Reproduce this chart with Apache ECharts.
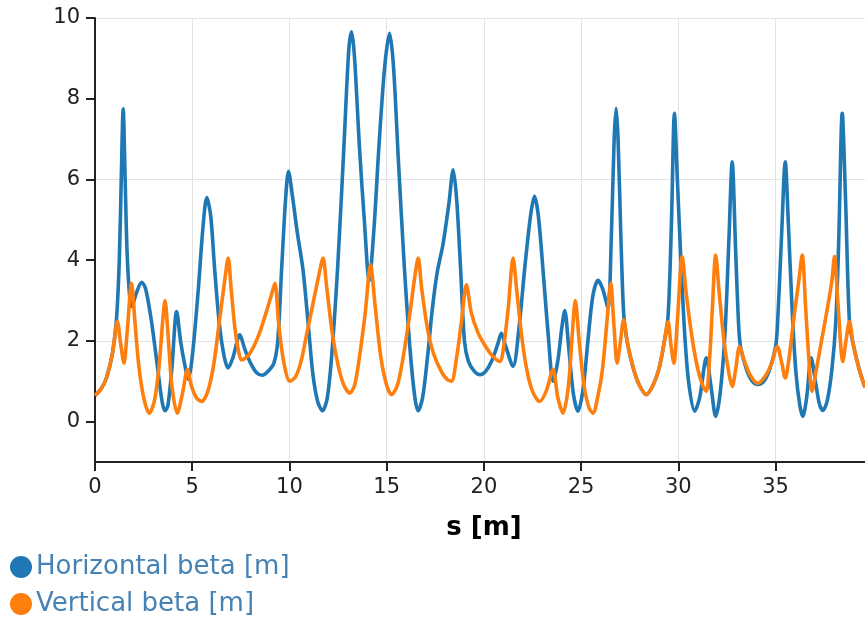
<!DOCTYPE html>
<html>
<head>
<meta charset="utf-8">
<script src="https://cdn.jsdelivr.net/npm/echarts@6/dist/echarts.min.js"></script>
<style>
html,body{margin:0;padding:0;background:#fff;}
#chart{width:865px;height:619px;}
</style>
</head>
<body>
<div id="chart"></div>
<script>
// s [m] positions and beta values
const horizontalS = [0.0,0.3,0.6,0.9,1.1,1.25,1.35,1.45,1.55,1.65,1.8,1.9,2.1,2.4,2.6,2.9,3.2,3.45,3.6,3.75,3.95,4.2,4.4,4.6,4.8,5.0,5.3,5.55,5.75,5.95,6.15,6.4,6.65,6.85,7.1,7.45,7.7,8.0,8.3,8.6,8.9,9.2,9.4,9.6,9.8,9.95,10.15,10.4,10.7,10.95,11.2,11.45,11.7,11.95,12.2,12.5,12.8,13.05,13.2,13.35,13.6,13.85,14.1,14.35,14.6,14.9,15.15,15.35,15.6,15.9,16.2,16.45,16.62,16.85,17.1,17.35,17.6,17.9,18.2,18.42,18.6,18.8,19.0,19.2,19.5,19.8,20.1,20.4,20.7,20.9,21.1,21.5,21.8,22.1,22.4,22.6,22.8,23.05,23.3,23.56,23.8,24.0,24.16,24.35,24.6,24.84,25.1,25.35,25.6,25.87,26.1,26.38,26.55,26.7,26.8,26.9,27.05,27.2,27.4,27.7,28.0,28.35,28.7,29.0,29.25,29.47,29.65,29.8,29.95,30.15,30.35,30.55,30.84,31.1,31.44,31.7,31.92,32.15,32.4,32.6,32.77,32.95,33.1,33.2,33.5,33.8,34.09,34.4,34.7,35.0,35.1,35.3,35.5,35.65,35.85,36.05,36.25,36.4,36.6,36.83,37.05,37.25,37.43,37.65,37.9,38.1,38.25,38.43,38.6,38.8,39.0,39.3,39.6];
const horizontalBeta = [0.65,0.8,1.1,1.7,2.5,4.0,6.0,7.75,6.0,4.2,3.0,2.85,3.15,3.45,3.3,2.5,1.4,0.5,0.27,0.4,1.3,2.73,2.0,1.45,1.05,1.6,3.2,4.8,5.55,5.1,3.8,2.4,1.6,1.33,1.6,2.15,1.8,1.45,1.22,1.15,1.25,1.45,2.0,3.8,5.5,6.2,5.6,4.7,3.75,2.5,1.2,0.5,0.27,0.6,1.8,4.0,6.8,9.2,9.66,9.0,6.8,5.0,3.5,4.8,6.8,8.8,9.62,8.8,6.5,3.9,1.8,0.6,0.27,0.6,1.6,2.8,3.7,4.4,5.4,6.24,5.5,3.8,2.0,1.5,1.25,1.16,1.25,1.5,1.9,2.19,1.9,1.37,2.3,3.8,5.1,5.58,5.1,3.7,2.2,1.0,1.5,2.3,2.75,1.9,0.7,0.26,0.8,2.0,3.1,3.5,3.3,2.82,4.5,7.0,7.76,7.0,4.5,2.6,1.9,1.3,0.9,0.67,0.9,1.3,1.9,2.6,5.0,7.64,6.0,3.8,2.0,0.9,0.26,0.6,1.58,0.8,0.13,0.7,2.2,4.5,6.44,4.2,2.4,1.85,1.3,1.0,0.92,1.0,1.3,1.85,2.4,4.5,6.44,5.0,2.8,1.2,0.4,0.13,0.6,1.58,1.0,0.45,0.28,0.5,1.3,2.5,4.5,7.64,5.5,2.48,1.9,1.3,0.85];

const verticalS = [0.0,0.3,0.6,0.9,1.15,1.3,1.49,1.65,1.88,2.05,2.25,2.5,2.79,3.05,3.3,3.5,3.6,3.75,3.95,4.23,4.5,4.76,4.95,5.2,5.48,5.8,6.1,6.4,6.7,6.85,7.0,7.2,7.4,7.54,7.9,8.2,8.5,8.8,9.05,9.25,9.45,9.7,10.02,10.3,10.6,10.9,11.2,11.5,11.73,11.9,12.2,12.5,12.8,13.1,13.35,13.6,13.9,14.17,14.4,14.7,15.0,15.25,15.55,15.85,16.2,16.45,16.62,16.8,17.1,17.4,17.8,18.1,18.33,18.6,18.85,19.1,19.35,19.7,20.04,20.4,20.82,21.0,21.25,21.5,21.7,21.95,22.2,22.5,22.87,23.2,23.56,23.8,24.07,24.35,24.55,24.7,24.9,25.15,25.4,25.61,25.85,26.1,26.35,26.52,26.7,26.85,27.0,27.19,27.4,27.7,28.0,28.35,28.7,29.0,29.25,29.47,29.62,29.77,29.95,30.2,30.4,30.7,31.0,31.25,31.44,31.6,31.75,31.92,32.1,32.35,32.6,32.77,32.95,33.15,33.4,33.7,34.09,34.5,34.8,35.09,35.3,35.5,35.7,35.95,36.2,36.37,36.55,36.72,36.87,37.1,37.4,37.7,37.9,38.03,38.2,38.46,38.62,38.8,39.0,39.3,39.6];
const verticalBeta = [0.65,0.8,1.1,1.7,2.48,2.0,1.45,2.2,3.43,2.5,1.4,0.6,0.21,0.5,1.4,2.6,3.0,2.2,0.9,0.21,0.7,1.29,0.9,0.6,0.5,0.75,1.4,2.5,3.6,4.05,3.3,2.3,1.7,1.53,1.65,1.9,2.25,2.7,3.1,3.43,2.4,1.5,1.0,1.1,1.5,2.2,2.9,3.6,4.05,3.4,2.2,1.4,0.9,0.71,0.9,1.6,2.7,3.89,2.9,1.6,0.9,0.67,0.9,1.6,2.7,3.6,4.05,3.3,2.3,1.7,1.25,1.05,1.0,1.6,2.5,3.39,2.7,2.2,1.9,1.65,1.49,1.8,2.8,4.05,3.2,2.1,1.3,0.75,0.5,0.75,1.29,0.6,0.21,0.9,2.2,3.0,2.0,0.9,0.35,0.21,0.6,1.3,2.6,3.43,2.3,1.45,1.9,2.52,1.9,1.3,0.9,0.67,0.9,1.3,1.9,2.48,1.9,1.45,2.5,4.09,3.2,2.1,1.3,0.9,0.75,1.5,2.8,4.13,3.2,2.0,1.2,0.87,1.3,1.86,1.5,1.15,0.95,1.15,1.45,1.86,1.5,1.08,1.6,2.6,3.5,4.13,2.8,1.5,0.75,1.3,2.1,2.9,3.5,4.09,3.0,1.49,2.0,2.48,1.9,1.3,0.85];

const xTickValues = [0,5,10,15,20,25,30,35];
const yTickValues = [0,2,4,6,8,10];
const seriesNames = ['Horizontal beta [m]','Vertical beta [m]'];

const zip = (a,b) => a.map((v,i)=>[v,b[i]]);
const FONT = 'DejaVu Sans';

const chart = echarts.init(document.getElementById('chart'), null, {renderer:'canvas'});
chart.setOption({
  animation:false,
  backgroundColor:'#fff',
  textStyle:{fontFamily:FONT},
  grid:{left:95,right:0,top:18,bottom:157,containLabel:false},
  legend:{
    orient:'vertical', left:10, top:554, height:90, padding:0, icon:'circle',
    itemWidth:22, itemHeight:22, itemGap:11,
    textStyle:{fontFamily:FONT,fontSize:26,color:'#4682b4',padding:[0,0,0,-1]},
    data:seriesNames
  },
  xAxis:{
    type:'value', min:0, max:39.6, interval:5,
    name:'s [m]', nameLocation:'middle', nameGap:53,
    nameTextStyle:{fontFamily:FONT,fontSize:26,fontWeight:'bold',color:'#000',padding:[0,0,0,8]},
    axisLine:{show:true,onZero:false,lineStyle:{color:'#222',width:2}},
    axisTick:{show:true,length:9,customValues:xTickValues,lineStyle:{color:'#222',width:2}},
    axisLabel:{customValues:xTickValues,fontFamily:FONT,fontSize:21,color:'#222',margin:15},
    splitLine:{show:true,lineStyle:{color:'#e2e2e2',width:1}}
  },
  yAxis:{
    type:'value', min:-1, max:10, interval:1,
    axisLine:{show:true,onZero:false,lineStyle:{color:'#222',width:2}},
    axisTick:{show:true,length:9,customValues:yTickValues,lineStyle:{color:'#222',width:2}},
    axisLabel:{customValues:yTickValues,fontFamily:FONT,fontSize:21,color:'#222',margin:15},
    splitLine:{show:true,lineStyle:{color:['rgba(0,0,0,0)','#e2e2e2'],width:1}}
  },
  series:[
    {name:seriesNames[0],type:'line',data:zip(horizontalS,horizontalBeta),showSymbol:false,smooth:0.3,
     itemStyle:{color:'#1f77b4'},lineStyle:{color:'#1f77b4',width:3.6},z:2},
    {name:seriesNames[1],type:'line',data:zip(verticalS,verticalBeta),showSymbol:false,smooth:0.3,
     itemStyle:{color:'#ff7f0e'},lineStyle:{color:'#ff7f0e',width:3.6},z:3}
  ]
});
</script>
</body>
</html>
